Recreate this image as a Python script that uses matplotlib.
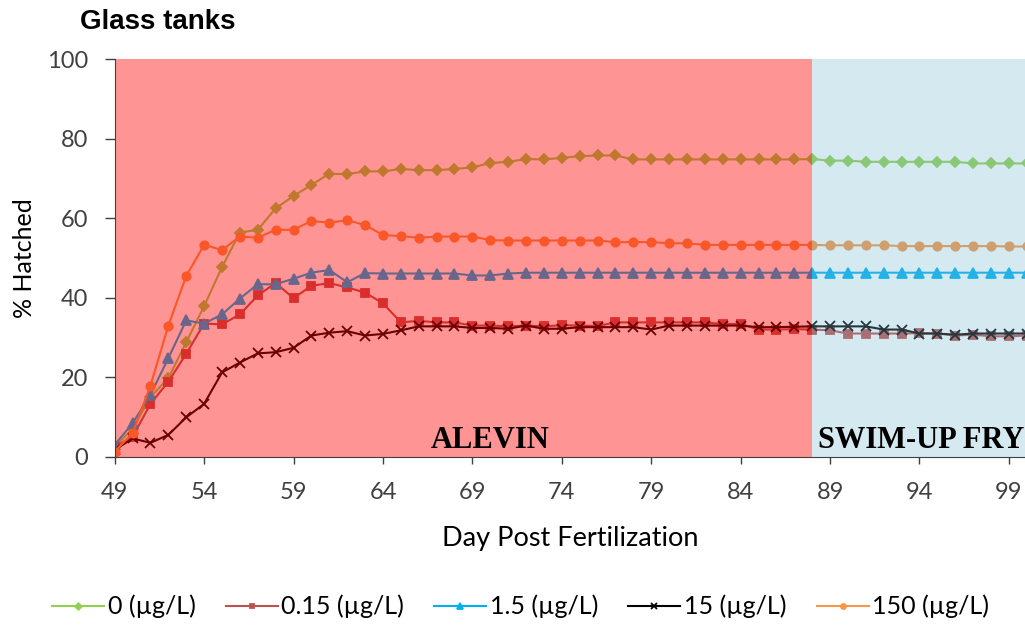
import matplotlib.pyplot as plt

# day post fertilization (category axis, one point per day)
days = list(range(49, 101))

hatch_0 = [2.5, 7, 15, 19.8, 28.8, 37.9, 47.7, 56.4, 57.1, 62.5,
           65.6, 68.4, 71.2, 71.1, 71.8, 71.8, 72.4, 72.1, 72.1, 72.4,
           72.8, 73.9, 74.2, 74.9, 74.8, 75.2, 75.6, 75.8, 75.8, 74.8,
           74.8, 74.8, 74.8, 74.8, 74.8, 74.8, 74.8, 74.8, 74.8, 74.9,
           74.5, 74.5, 74.2, 74.2, 74.2, 74.2, 74.2, 74.2, 73.8, 73.8,
           73.8, 73.8]
hatch_0_15 = [2.5, 5, 13.3, 18.9, 25.9, 33.5, 33.3, 35.8, 40.6, 43.7,
              39.9, 43, 43.7, 42.6, 41.3, 38.6, 33.8, 34.2, 33.8, 33.8,
              33, 33, 32.8, 33, 32.8, 33.1, 33, 32.9, 33.8, 33.8,
              33.8, 33.8, 33.8, 33.8, 33.4, 33.4, 32, 32, 32.1, 32,
              31.8, 31, 31, 31, 31, 31.1, 31, 30.5, 30.7, 30.3,
              30.3, 30.5]
hatch_1_5 = [3, 8.4, 15.6, 24.8, 34.3, 33.5, 35.8, 39.8, 43.4, 43.4,
             44.8, 46.3, 47, 43.9, 46.2, 46.1, 46.1, 46.1, 46.1, 46.1,
             45.6, 45.6, 46.1, 46.3, 46.3, 46.3, 46.3, 46.3, 46.3, 46.3,
             46.3, 46.3, 46.3, 46.3, 46.3, 46.3, 46.3, 46.3, 46.3, 46.3,
             46.3, 46.3, 46.3, 46.3, 46.3, 46.3, 46.3, 46.3, 46.3, 46.3,
             46.3, 46.3]
hatch_15 = [1.7, 4.6, 3.5, 5.5, 9.9, 13.3, 21.2, 23.7, 26, 26.3,
            27.4, 30.5, 31.2, 31.6, 30.5, 30.9, 31.8, 32.8, 32.8, 32.8,
            32.4, 32.4, 32.2, 33, 32.2, 32.2, 32.6, 32.6, 32.6, 32.6,
            32, 33, 33, 33, 33, 33, 32.6, 32.6, 32.7, 32.8,
            32.8, 32.8, 32.8, 32, 32, 31, 31, 30.7, 31, 31,
            31, 31]
hatch_150 = [1.3, 5.9, 17.9, 33, 45.5, 53.3, 52, 55.4, 55.1, 57.1,
             57.1, 59.3, 58.9, 59.5, 58.3, 55.8, 55.5, 55.1, 55.4, 55.4,
             55.4, 54.5, 54.4, 54.4, 54.4, 54.4, 54.4, 54.4, 54, 54,
             54, 53.7, 53.7, 53.3, 53.3, 53.3, 53.3, 53.3, 53.3, 53.3,
             53.2, 53.2, 53.2, 53.2, 53, 53, 53, 53, 53, 53,
             52.9, 52.9]

series = [hatch_0, hatch_0_15, hatch_1_5, hatch_15, hatch_150]
labels = ['0 (\u00b5g/L)', '0.15 (\u00b5g/L)', '1.5 (\u00b5g/L)',
          '15 (\u00b5g/L)', '150 (\u00b5g/L)']
colors = ['#92D050', '#C0504D', '#00B0F0', '#000000', '#F79646']
markers = ['D', 's', '^', 'x', 'o']
msizes = [5.5, 5.5, 6.5, 6.5, 6]

xticks = list(range(49, 100, 5))
stage_split = 88

plt.rcParams['font.family'] = ['Lato', 'DejaVu Sans']

fig = plt.figure(figsize=(10.25, 6.26), dpi=100)
ax = fig.add_axes([0.1119, 0.2704, 0.8881, 0.6349])

for vals, lab, c, m, ms in zip(series, labels, colors, markers, msizes):
    ax.plot(days, vals, color=c, marker=m, ms=ms, mew=1.3, lw=1.5,
            label=lab, zorder=2)

# translucent stage shading sits on top of the lines (tints them)
ax.axvspan(49, stage_split, color='#FF0000', alpha=0.42, lw=0, zorder=3)
ax.axvspan(stage_split, 101, color='#75B7CF', alpha=0.3, lw=0, zorder=3)

ax.text(70, 4, 'ALEVIN', family='Liberation Serif', weight='bold',
        fontsize=22, ha='center', va='center', zorder=5)
ax.text(88.35, 4, 'SWIM-UP FRY', family='Liberation Serif', weight='bold',
        fontsize=22, ha='left', va='center', zorder=5, clip_on=True)

ax.set_xlim(49, 99.9)
ax.set_ylim(0, 100)
ax.set_xticks(xticks)
ax.set_yticks(range(0, 101, 20))
ax.tick_params(axis='x', length=5, width=1, pad=13, labelsize=17,
               colors='#404040')
ax.tick_params(axis='y', length=7, width=1, pad=12, labelsize=17,
               colors='#404040')
for s in ['top', 'right']:
    ax.spines[s].set_visible(False)
for s in ['left', 'bottom']:
    ax.spines[s].set_color('#404040')
    ax.spines[s].set_zorder(6)

ax.set_xlabel('Day Post Fertilization', fontsize=19.5, labelpad=17)
ax.set_ylabel('% Hatched', fontsize=18, labelpad=8)

fig.text(0.078, 0.965, 'Glass tanks', family='Liberation Sans',
         weight='bold', fontsize=20, va='center', ha='left')

fig.legend(loc='center', bbox_to_anchor=(0.508, 0.031), ncol=5,
           frameon=False, fontsize=18, handlelength=2.08, markerscale=0.6,
           columnspacing=1.2, handletextpad=0.15)

fig.savefig('out.png', dpi=100)
